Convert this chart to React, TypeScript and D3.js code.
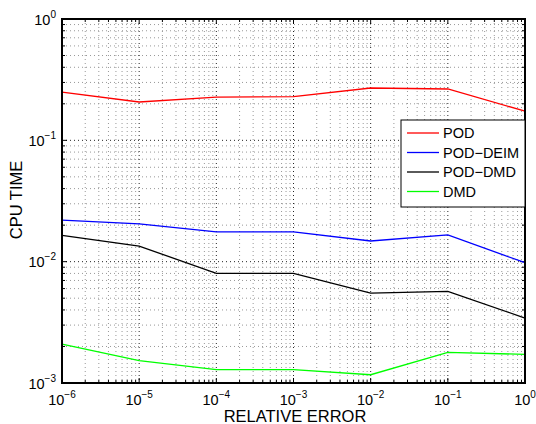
import React from "react";
import * as d3 from "d3";

const xTicks = [1e-6, 1e-5, 1e-4, 1e-3, 1e-2, 1e-1, 1];
const xExponents = ["−6", "−5", "−4", "−3", "−2", "−1", "0"];
const yTicks = [1e-3, 1e-2, 1e-1, 1];
const yExponents = ["−3", "−2", "−1", "0"];

const errors = [1e-6, 1e-5, 1e-4, 1e-3, 1e-2, 1e-1, 1];
const pod = [0.25, 0.207, 0.227, 0.229, 0.27, 0.265, 0.174];
const podDeim = [0.022, 0.0205, 0.0176, 0.0176, 0.0148, 0.0166, 0.0098];
const podDmd = [0.0165, 0.01345, 0.008, 0.008, 0.0055, 0.0057, 0.00343];
const dmd = [0.00209, 0.00153, 0.00129, 0.00129, 0.00117, 0.00179, 0.00172];

const seriesNames = ["POD", "POD−DEIM", "POD−DMD", "DMD"];
const seriesColors = ["#ff0000", "#0000ff", "#000000", "#00ff00"];
const seriesData = [pod, podDeim, podDmd, dmd];

const W = 536, H = 424;
const L = 62, R = 525, T = 19, B = 383;
const FONT = "'Liberation Sans', Arial, Helvetica, sans-serif";

export default function App() {
  const x = d3.scaleLog().domain([1e-6, 1]).range([L, R]);
  const y = d3.scaleLog().domain([1e-3, 1]).range([B, T]);

  const minorX: number[] = [];
  for (let e = -6; e < 0; e++) for (let m = 2; m <= 9; m++) minorX.push(m * Math.pow(10, e));
  const minorY: number[] = [];
  for (let e = -3; e < 0; e++) for (let m = 2; m <= 9; m++) minorY.push(m * Math.pow(10, e));

  const line = d3.line<number>().x((_, i) => x(errors[i])).y((d) => y(d));

  return (
    <svg width={W} height={H} style={{ position: "absolute", left: 0, top: 0, background: "#fff" }} fontFamily={FONT}>
      <rect x={0} y={0} width={W} height={H} fill="#fff" />
      {/* minor grid */}
      <g stroke="#000" strokeWidth={1} strokeDasharray="1,3" opacity={0.4}>
        {minorX.map((v, i) => (
          <line key={"mx" + i} x1={x(v)} x2={x(v)} y1={T} y2={B} />
        ))}
        {minorY.map((v, i) => (
          <line key={"my" + i} x1={L} x2={R} y1={y(v)} y2={y(v)} />
        ))}
      </g>
      {/* major grid */}
      <g stroke="#000" strokeWidth={1} strokeDasharray="1,3" opacity={0.85}>
        {xTicks.slice(1, -1).map((v, i) => (
          <line key={"Mx" + i} x1={x(v)} x2={x(v)} y1={T} y2={B} />
        ))}
        {yTicks.slice(1, -1).map((v, i) => (
          <line key={"My" + i} x1={L} x2={R} y1={y(v)} y2={y(v)} />
        ))}
      </g>
      {/* ticks */}
      <g stroke="#000" strokeWidth={1}>
        {xTicks.map((v, i) => (
          <g key={"tx" + i}>
            <line x1={x(v)} x2={x(v)} y1={B} y2={B - 5} />
            <line x1={x(v)} x2={x(v)} y1={T} y2={T + 5} />
          </g>
        ))}
        {minorX.map((v, i) => (
          <g key={"tmx" + i}>
            <line x1={x(v)} x2={x(v)} y1={B} y2={B - 3} />
            <line x1={x(v)} x2={x(v)} y1={T} y2={T + 3} />
          </g>
        ))}
        {yTicks.map((v, i) => (
          <g key={"ty" + i}>
            <line x1={L} x2={L + 5} y1={y(v)} y2={y(v)} />
            <line x1={R} x2={R - 5} y1={y(v)} y2={y(v)} />
          </g>
        ))}
        {minorY.map((v, i) => (
          <g key={"tmy" + i}>
            <line x1={L} x2={L + 3} y1={y(v)} y2={y(v)} />
            <line x1={R} x2={R - 3} y1={y(v)} y2={y(v)} />
          </g>
        ))}
      </g>
      {/* series */}
      {seriesData.map((s, i) => (
        <path key={"s" + i} d={line(s) || ""} fill="none" stroke={seriesColors[i]} strokeWidth={1.3} />
      ))}
      {/* axes box */}
      <rect x={L} y={T} width={R - L} height={B - T} fill="none" stroke="#000" strokeWidth={2} />
      {/* x tick labels */}
      {xTicks.map((v, i) => (
        <text key={"xl" + i} x={x(v)} y={405} textAnchor="middle" fontSize={14.5} fill="#000">
          10<tspan dy={-7} fontSize={10}>{xExponents[i]}</tspan>
        </text>
      ))}
      {/* y tick labels */}
      {yTicks.map((v, i) => (
        <text key={"yl" + i} x={L - 6} y={y(v) + 5.5} textAnchor="end" fontSize={14.5} fill="#000">
          10<tspan dy={-7} fontSize={10}>{yExponents[i]}</tspan>
        </text>
      ))}
      {/* axis titles */}
      <text x={295} y={422} textAnchor="middle" fontSize={16.5} fill="#000">RELATIVE ERROR</text>
      <text transform="translate(22,200) rotate(-90)" textAnchor="middle" fontSize={16.5} fill="#000">CPU TIME</text>
      {/* legend */}
      <g>
        <rect x={401} y={120} width={124} height={87} fill="#fff" stroke="#000" strokeWidth={1} />
        {seriesNames.map((n, i) => (
          <g key={"lg" + i}>
            <line x1={407} x2={439} y1={133 + i * 19.5} y2={133 + i * 19.5} stroke={seriesColors[i]} strokeWidth={1.3} />
            <text x={443} y={133 + i * 19.5 + 5} fontSize={14.5} fill="#000">{n}</text>
          </g>
        ))}
      </g>
    </svg>
  );
}
